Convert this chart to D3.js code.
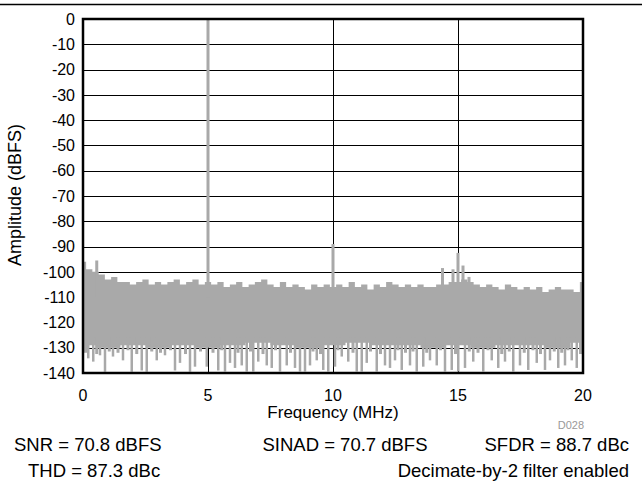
<!DOCTYPE html>
<html lang="en">
<head>
<meta charset="UTF-8">
<title>FFT Spectrum</title>
<script src="https://cdn.jsdelivr.net/npm/d3@7"></script>
<style>
    body { margin: 0; background: #fff; }
    svg { display: block; }
    svg text { font-family: "Liberation Sans", Arial, sans-serif; fill: #000; }
</style>
</head>
<body>
<svg id="chart" width="642" height="489"></svg>
<script>
// ticks
var freqTicks = [0, 5, 10, 15, 20];
var ampTicks = [0, -10, -20, -30, -40, -50, -60, -70, -80, -90, -100, -110, -120, -130, -140];

// upper edge of the noise floor, one value every 0.25 MHz from 0 to 20 MHz
var noiseTop = [-96, -99, -100, -101, -103, -102, -104, -104, -105, -104, -103, -105,
    -104, -105, -104, -103, -105, -104, -103, -105, -104, -105, -104, -106, -105, -104,
    -106, -105, -104, -103, -105, -106, -104, -106, -105, -106, -107, -105, -106, -105,
    -106, -105, -106, -104, -106, -105, -107, -105, -106, -104, -105, -106, -105, -106,
    -105, -106, -106, -105, -105, -104, -104, -103, -104, -105, -106, -105, -106, -107,
    -105, -106, -107, -106, -107, -106, -108, -107, -106, -107, -107, -108, -104];
// lower edge of the solid noise band, one value every 1 MHz
var noiseBottom = [-129, -130, -129, -130, -129, -130, -129, -128, -129, -130, -129,
    -128, -129, -129, -130, -129, -130, -129, -129, -130, -128];

// deep dips below the band: [MHz, dBFS]
var dips = [
    [0.21, -134.2], [0.41, -135.5], [0.68, -133], [0.88, -139.5], [1.2, -133.5], [1.6, -135],
    [1.95, -139.5], [2.35, -139], [2.55, -139.5], [2.95, -135], [3.28, -133], [3.68, -139],
    [3.88, -136], [4.28, -139.5], [4.48, -137.5], [4.95, -137.5],
    [5.41, -139], [5.68, -139.4], [5.88, -136], [6.08, -138], [6.35, -137], [6.55, -139.4],
    [6.81, -139.4], [7.01, -135.5], [7.35, -137], [7.55, -138], [7.88, -139.4], [8.15, -137],
    [8.48, -138], [8.68, -139.4], [8.88, -139.4], [9.08, -137], [9.35, -135], [9.61, -138.8],
    [9.81, -139.4],
    [10.08, -137.5], [10.35, -133.5], [10.61, -135.5], [10.95, -139.4], [11.15, -139.4],
    [11.35, -136], [11.75, -139.4], [12.08, -137], [12.28, -138], [12.48, -135], [12.75, -138.8],
    [13.08, -137], [13.35, -139.4], [13.61, -137.5], [13.88, -135], [14.15, -137], [14.48, -139.4],
    [14.75, -138.8],
    [15.01, -139.4], [15.28, -138], [15.61, -135.5], [16.01, -139.4], [16.35, -135], [16.61, -138],
    [16.88, -135.5], [17.21, -139.4], [17.48, -137], [17.81, -138.8], [18.15, -136], [18.48, -138.8],
    [18.68, -135], [19.01, -138], [19.28, -137], [19.55, -135], [19.75, -138]
];
// shorter notches along the bottom of the band: [MHz, dBFS]
var notches = [
    [0.1, -132], [0.55, -132.5], [1.05, -131.5], [1.4, -132], [1.8, -131], [2.15, -132.5],
    [2.75, -131.5], [3.1, -132], [3.5, -131], [4.1, -132.5], [4.7, -131.5], [5.2, -132],
    [5.55, -131], [6.2, -132], [6.7, -131.5], [7.2, -132.5], [7.7, -131], [8.3, -132],
    [9.2, -131.5], [9.5, -132.5], [10.2, -131], [10.8, -132], [11.5, -131.5], [11.9, -132.5],
    [12.6, -131], [12.9, -132], [13.2, -131.5], [13.75, -132], [14.3, -131], [14.9, -132.5],
    [15.45, -131.5], [15.8, -132], [16.2, -131], [16.75, -132.5], [17.05, -131.5], [17.65, -132],
    [18.0, -131], [18.3, -132.5], [18.85, -131.5], [19.15, -132], [19.4, -131], [19.9, -132.5]
];

// tones and spurs: [MHz, dBFS]
var spurs = [
    [0.55, -95.5], [5.0, 0], [10.0, -89], [14.38, -98.5], [14.8, -99],
    [15.0, -92.5], [15.2, -97.5], [15.44, -102]
];

var metricsRow1 = ["SNR = 70.8 dBFS", "SINAD = 70.7 dBFS", "SFDR = 88.7 dBc"];
var metricsRow2 = ["THD = 87.3 dBc", "Decimate-by-2 filter enabled"];

var svg = d3.select("#chart");
var plotLeft = 83, plotRight = 583, plotTop = 19, plotBottom = 373;
var traceColor = "#a9a9a9";

var x = d3.scaleLinear().domain([0, 20]).range([plotLeft, plotRight]);
var y = d3.scaleLinear().domain([0, -140]).range([plotTop, plotBottom]);

// top rule
svg.append("line")
    .attr("x1", 0).attr("x2", 642)
    .attr("y1", 4.5).attr("y2", 4.5)
    .attr("stroke", "#000").attr("stroke-width", 1.5);

// grid
var grid = svg.append("g");
grid.selectAll(".h").data(ampTicks.slice(1, -1)).enter().append("line")
    .attr("x1", plotLeft).attr("x2", plotRight)
    .attr("y1", function (d) { return Math.round(y(d)) + 0.5; })
    .attr("y2", function (d) { return Math.round(y(d)) + 0.5; })
    .attr("stroke", "#000").attr("stroke-width", 1);
grid.selectAll(".v").data(freqTicks.slice(1, -1)).enter().append("line")
    .attr("y1", plotTop).attr("y2", plotBottom)
    .attr("x1", function (d) { return Math.round(x(d)) + 0.5; })
    .attr("x2", function (d) { return Math.round(x(d)) + 0.5; })
    .attr("stroke", "#000").attr("stroke-width", 1);

// noise band
var plot = svg.append("g");
var upper = d3.area()
    .x(function (d, i) { return x(i * 0.25); })
    .y0(y(-120))
    .y1(function (d) { return y(d); })
    .curve(d3.curveStep);
plot.append("path").datum(noiseTop).attr("d", upper).attr("fill", traceColor);

var lower = d3.area()
    .x(function (d, i) { return x(i); })
    .y0(y(-119))
    .y1(function (d) { return y(d); })
    .curve(d3.curveStep);
plot.append("path").datum(noiseBottom).attr("d", lower).attr("fill", traceColor);

plot.selectAll(".notch").data(notches).enter().append("line")
    .attr("x1", function (d) { return x(d[0]); })
    .attr("x2", function (d) { return x(d[0]); })
    .attr("y1", y(-126))
    .attr("y2", function (d) { return y(d[1]); })
    .attr("stroke", traceColor).attr("stroke-width", 3);

plot.selectAll(".dip").data(dips).enter().append("line")
    .attr("x1", function (d) { return x(d[0]); })
    .attr("x2", function (d) { return x(d[0]); })
    .attr("y1", y(-126))
    .attr("y2", function (d) { return y(d[1]); })
    .attr("stroke", traceColor).attr("stroke-width", 2.5);

plot.selectAll(".spur").data(spurs).enter().append("line")
    .attr("x1", function (d) { return x(d[0]); })
    .attr("x2", function (d) { return x(d[0]); })
    .attr("y1", y(-110))
    .attr("y2", function (d) { return y(d[1]); })
    .attr("stroke", traceColor).attr("stroke-width", 3);

// frame
svg.append("rect")
    .attr("x", plotLeft).attr("y", plotTop)
    .attr("width", plotRight - plotLeft).attr("height", plotBottom - plotTop)
    .attr("fill", "none").attr("stroke", "#000").attr("stroke-width", 2.5);

// axes labels
svg.append("g").selectAll("text").data(ampTicks).enter().append("text")
    .attr("x", 75)
    .attr("y", function (d) { return y(d); })
    .attr("dy", "0.36em")
    .attr("text-anchor", "end")
    .style("font-size", "16px")
    .text(function (d) { return d; });

svg.append("g").selectAll("text").data(freqTicks).enter().append("text")
    .attr("x", function (d) { return x(d); })
    .attr("y", 401)
    .attr("text-anchor", "middle")
    .style("font-size", "16px")
    .text(function (d) { return d; });

svg.append("text")
    .attr("x", 333).attr("y", 418)
    .attr("text-anchor", "middle")
    .style("font-size", "17px")
    .text("Frequency (MHz)");

svg.append("text")
    .attr("transform", "translate(21,195) rotate(-90)")
    .attr("text-anchor", "middle")
    .style("font-size", "18px")
    .text("Amplitude (dBFS)");

svg.append("text")
    .attr("x", 584).attr("y", 429)
    .attr("text-anchor", "end")
    .style("font-size", "11px")
    .style("fill", "#999")
    .text("D028");

// metrics
var row1 = svg.append("g").style("font-size", "18.5px");
row1.append("text").attr("x", 14).attr("y", 451).text(metricsRow1[0]);
row1.append("text").attr("x", 345).attr("y", 451).attr("text-anchor", "middle").text(metricsRow1[1]);
row1.append("text").attr("x", 629).attr("y", 451).attr("text-anchor", "end").text(metricsRow1[2]);

var row2 = svg.append("g").style("font-size", "18.5px");
row2.append("text").attr("x", 28).attr("y", 477).text(metricsRow2[0]);
row2.append("text").attr("x", 629).attr("y", 477).attr("text-anchor", "end").text(metricsRow2[1]);
</script>
</body>
</html>
